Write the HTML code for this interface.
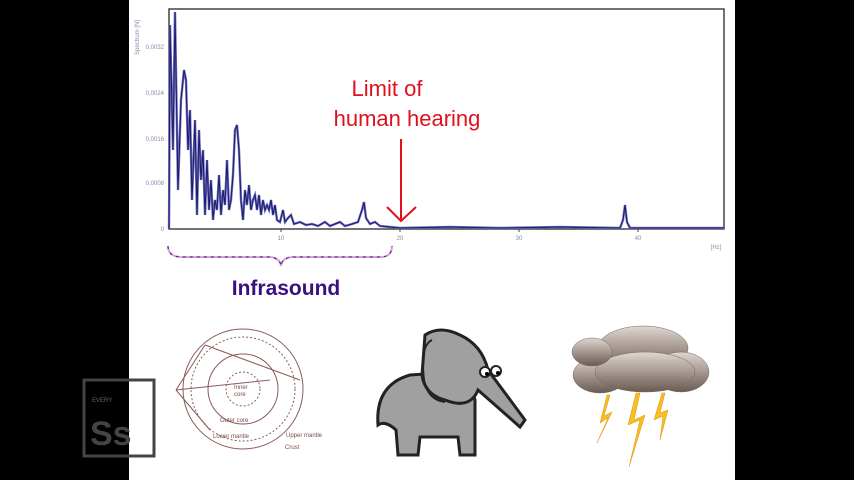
<!DOCTYPE html>
<html><head><meta charset="utf-8"><style>
html,body{margin:0;padding:0;background:#000;}
svg{display:block;}
text{font-family:"Liberation Sans",sans-serif;}
</style></head><body>
<svg width="854" height="480" viewBox="0 0 854 480" xmlns="http://www.w3.org/2000/svg">
<rect x="0" y="0" width="854" height="480" fill="#000"/>
<rect x="129" y="0" width="606" height="480" fill="#fff"/>
<rect x="169" y="9" width="555" height="220" fill="none" stroke="#444" stroke-width="1.5"/>
<g font-size="6" fill="#8888aa">
<text x="164" y="49" text-anchor="end">0,0032</text>
<text x="164" y="95" text-anchor="end">0,0024</text>
<text x="164" y="141" text-anchor="end">0,0016</text>
<text x="164" y="185" text-anchor="end">0,0008</text>
<text x="164" y="231" text-anchor="end">0</text>
<text x="281" y="240" text-anchor="middle">10</text>
<text x="400" y="240" text-anchor="middle">20</text>
<text x="519" y="240" text-anchor="middle">30</text>
<text x="638" y="240" text-anchor="middle">40</text>
<text x="716" y="249" text-anchor="middle">[Hz]</text>
<text transform="translate(139,55) rotate(-90)">Spectrum [N]</text>
</g>
<g stroke="#444" stroke-width="1"><line x1="281" y1="229" x2="281" y2="232"/><line x1="400" y1="229" x2="400" y2="232"/><line x1="519" y1="229" x2="519" y2="232"/><line x1="638" y1="229" x2="638" y2="232"/></g>
<polyline fill="none" stroke="#7070b8" stroke-width="2.4" points="169,229 170,25 173,150 175,12 178,190 181,100 184,70 186,80 188,150 190,110 192,200 195,120 197,215 199,130 201,180 203,150 205,215 207,160 209,210 211,180 213,220 215,200 217,210 219,175 221,215 223,190 225,205 227,160 229,210 231,200 233,175 235,130 237,125 239,150 241,200 243,220 245,190 247,205 249,185 251,210 253,200 255,195 257,210 259,195 261,215 263,200 265,210 267,205 269,210 271,200 273,215 275,205 277,220 280,222 283,210 285,222 288,218 291,215 294,224 300,222 306,225 312,224 318,226 325,222 330,226 340,222 345,226 352,224 358,222 362,210 364,202 366,218 370,224 375,222 380,226 390,227 400,228 450,227 500,228 560,227 620,228 623,220 625,205 627,222 630,228 724,228"/>
<polyline fill="none" stroke="#1a1a70" stroke-width="1" points="169,229 170,25 173,150 175,12 178,190 181,100 184,70 186,80 188,150 190,110 192,200 195,120 197,215 199,130 201,180 203,150 205,215 207,160 209,210 211,180 213,220 215,200 217,210 219,175 221,215 223,190 225,205 227,160 229,210 231,200 233,175 235,130 237,125 239,150 241,200 243,220 245,190 247,205 249,185 251,210 253,200 255,195 257,210 259,195 261,215 263,200 265,210 267,205 269,210 271,200 273,215 275,205 277,220 280,222 283,210 285,222 288,218 291,215 294,224 300,222 306,225 312,224 318,226 325,222 330,226 340,222 345,226 352,224 358,222 362,210 364,202 366,218 370,224 375,222 380,226 390,227 400,228 450,227 500,228 560,227 620,228 623,220 625,205 627,222 630,228 724,228"/>
<text x="387" y="96" font-size="22" fill="#e0101c" text-anchor="middle">Limit of</text>
<text x="407" y="126" font-size="22" fill="#e0101c" text-anchor="middle">human hearing</text>
<line x1="401" y1="139" x2="401" y2="220" stroke="#e0101c" stroke-width="2"/>
<polyline points="387,207 401,221 416,207" fill="none" stroke="#e0101c" stroke-width="2"/>
<path d="M168,246 Q168,256 180,257 L270,257 Q280,258 281,266 Q282,258 292,257 L382,257 Q392,256 392,246" fill="none" stroke="#d9a0e0" stroke-width="2"/>
<path d="M168,246 Q168,256 180,257 L270,257 Q280,258 281,266 Q282,258 292,257 L382,257 Q392,256 392,246" fill="none" stroke="#442266" stroke-width="1" stroke-dasharray="3,4"/>
<text x="286" y="295" font-size="21" font-weight="bold" fill="#3a1080" text-anchor="middle">Infrasound</text>
<g fill="none" stroke="#8a5a5a" stroke-width="1">
<circle cx="243" cy="389" r="60"/><circle cx="243" cy="389" r="52" stroke-dasharray="2,2"/><circle cx="243" cy="389" r="35"/><circle cx="243" cy="389" r="17" stroke-dasharray="2,2"/>
<path d="M176,390 L205,345 M176,390 L210,430 M176,390 L270,380 M205,345 L300,380"/>
</g>
<g font-size="6" fill="#7a4a4a"><text x="234" y="389">Inner</text><text x="234" y="396">core</text><text x="220" y="422">Outer core</text><text x="213" y="438">Lower mantle</text><text x="286" y="437">Upper mantle</text><text x="285" y="449">Crust</text></g>
<rect x="84" y="380" width="70" height="76" fill="none" stroke="#444" stroke-width="3"/>
<text x="92" y="402" font-size="6" fill="#666">EVERY</text>
<text x="90" y="445" font-size="34" font-weight="bold" fill="#444">Ss</text>
<g stroke="#222" stroke-width="3" fill="#a0a0a0">
<path d="M378,425 Q375,385 410,375 L455,372 Q470,380 475,400 L475,455 L460,455 L458,437 L420,437 L418,455 L398,455 L396,430 Q385,420 378,425 Z"/>
<path d="M425,335 Q440,325 460,335 Q482,345 488,370 L525,420 L520,427 L478,390 Q470,410 445,400 Q425,395 422,375 Z"/>
<path d="M432,340 Q420,345 424,380 Q428,400 445,402" fill="none" stroke-width="2"/>
</g>
<circle cx="485" cy="372" r="5" fill="#fff" stroke="#222" stroke-width="2"/><circle cx="496" cy="371" r="5" fill="#fff" stroke="#222" stroke-width="2"/>
<circle cx="487" cy="374" r="2" fill="#000"/><circle cx="498" cy="373" r="2" fill="#000"/>
<defs><linearGradient id="cg" x1="0" y1="0" x2="0" y2="1"><stop offset="0" stop-color="#e0d6d0"/><stop offset="1" stop-color="#6a5a52"/></linearGradient></defs>
<g fill="url(#cg)" stroke="#766" stroke-width="0.5">
<ellipse cx="643" cy="348" rx="45" ry="22"/><ellipse cx="600" cy="375" rx="27" ry="18"/><ellipse cx="681" cy="372" rx="28" ry="20"/><ellipse cx="645" cy="372" rx="50" ry="20"/><ellipse cx="592" cy="352" rx="20" ry="14"/>
</g>
<g fill="#f5c020" stroke="#e09010" stroke-width="0.5">
<polygon points="607,395 600,423 608,418 597,443 612,412 604,416 610,395"/>
<polygon points="636,393 628,425 640,420 629,467 645,415 634,420 640,393"/>
<polygon points="662,393 654,420 663,416 660,440 668,410 660,413 665,393"/>
</g>
</svg>
</body></html>
